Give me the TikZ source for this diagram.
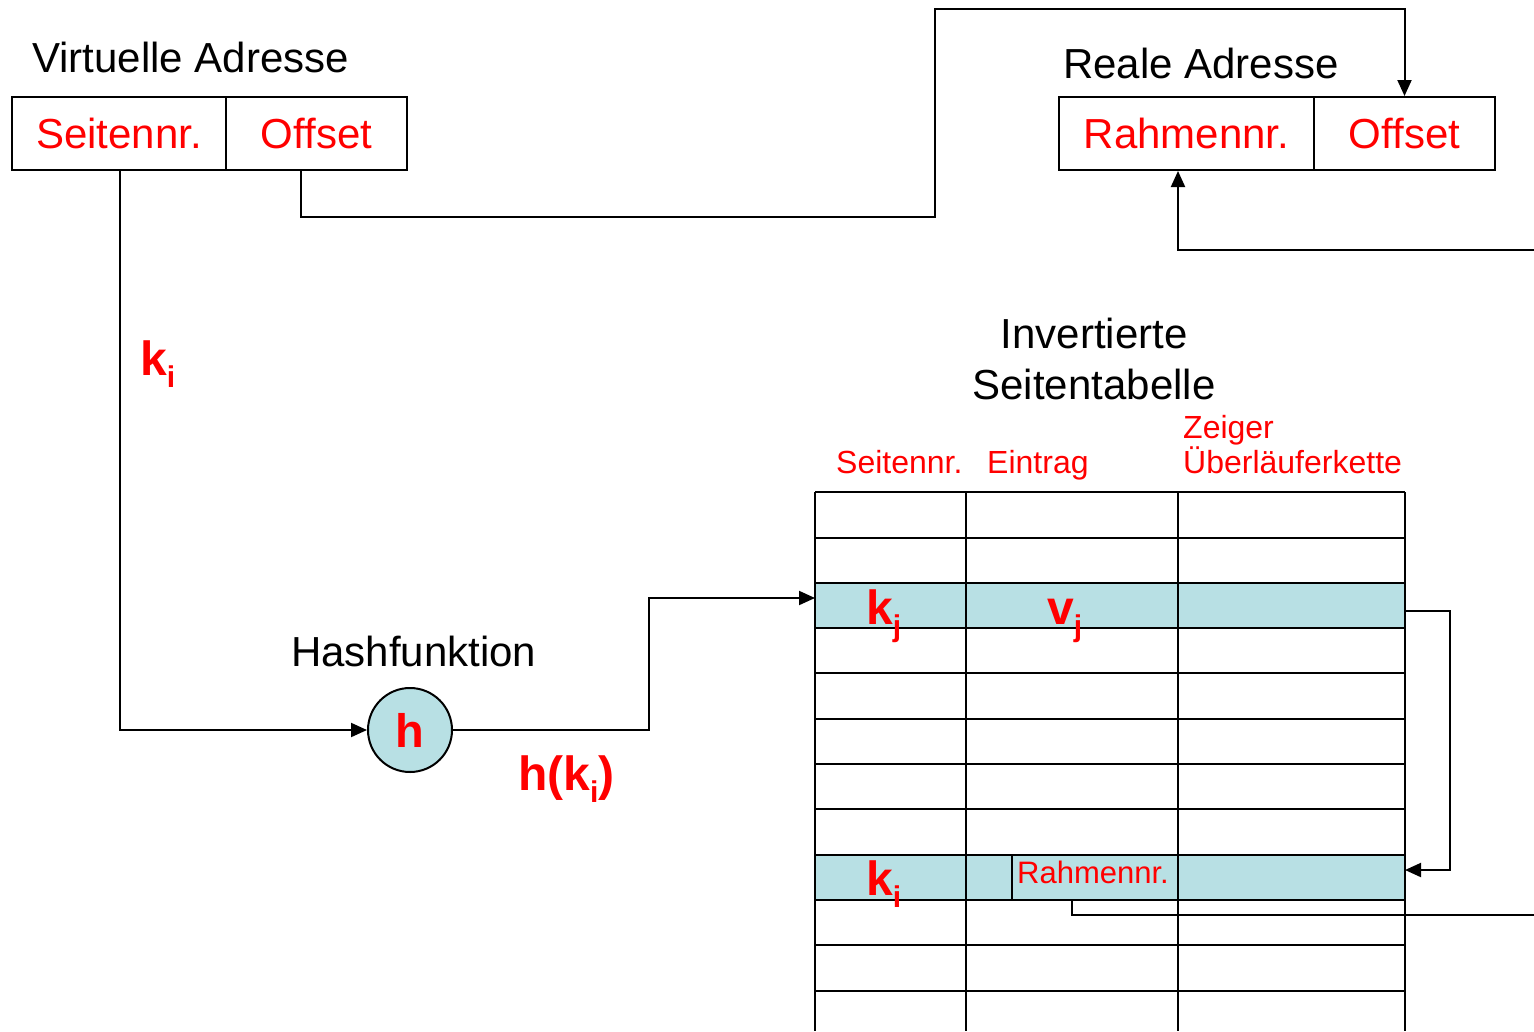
\documentclass[tikz,border=0pt]{standalone}
\usepackage{fontspec}
\setmainfont{Liberation Sans}
\usetikzlibrary{arrows.meta,calc}
\definecolor{cellblue}{RGB}{184,224,228}
\newcommand{\bigf}{\fontsize{42}{50}\selectfont}
\newcommand{\midf}{\fontsize{32}{38}\selectfont}
\newcommand{\smf}{\fontsize{31}{36}\selectfont}
\newcommand{\keyf}{\fontsize{48}{56}\selectfont\bfseries}
\newcommand{\subx}[1]{\raisebox{-12pt}{\fontsize{30}{30}\selectfont\bfseries #1}}
\begin{document}
\begin{tikzpicture}[x=1pt,y=-1pt,
  conn/.style={line width=2pt},
  arr/.style={conn,-{Triangle[length=16pt,width=14pt]}},
  grid/.style={line width=2pt},
  cell/.style={draw,line width=2pt,rectangle,inner sep=0pt,minimum height=73pt,
    text height=30pt,text depth=0pt,text=red,font=\bigf},
  lbl/.style={anchor=base west,inner sep=0pt},
  title/.style={lbl,font=\bigf},
  rlbl/.style={lbl,font=\midf,text=red},
  key/.style={lbl,font=\keyf,text=red}
]
\useasboundingbox (0,0) rectangle (1534,1031);

% titles
\node[title] (tv) at (32,72) {Virtuelle Adresse};
\node[title] (tr) at (1063,78) {Reale Adresse};
\node[title] (th) at (291,666) {Hashfunktion};
\node[anchor=base,inner sep=0pt,font=\bigf] (ti1) at (1094,348) {Invertierte};
\node[anchor=base,inner sep=0pt,font=\bigf] (ti2) at (1094,399) {Seitentabelle};

% address boxes
\node[cell,minimum width=214pt] (vseit) at (119,133.5) {Seitennr.};
\node[cell,minimum width=181pt] (voff) at (316.5,133.5) {Offset};
\node[cell,minimum width=255pt] (rrahm) at (1186.5,133.5) {Rahmennr.};
\node[cell,minimum width=181pt] (roff) at (1404.5,133.5) {Offset};

% column labels
\node[rlbl] (c1) at (836,473) {Seitennr.};
\node[rlbl] (c2) at (987,473) {Eintrag};
\node[rlbl] (c3a) at (1183,438) {Zeiger};
\node[rlbl] (c3b) at (1183,473) {Überläuferkette};

% table highlight rows
\fill[cellblue] (815,583) rectangle (1405,628);
\fill[cellblue] (815,855) rectangle (1405,900);
% table grid
\foreach \yy in {492,537.5,583,628,673.3,718.7,764,809.3,854.7,900,945.3,990.7}
  \draw[grid] (815,\yy) -- (1405,\yy);
\foreach \xx in {815,966,1178,1405}
  \draw[grid] (\xx,492) -- (\xx,1031);
\draw[grid] (1012,854.7) -- (1012,900);

% table texts
\node[key] (kj) at (866,624) {k\subx{j}};
\node[key] (vj) at (1047,624) {v\subx{j}};
\node[key] (ki2) at (866,895) {k\subx{i}};
\node[lbl,font=\smf,text=red] (rn) at (1017,883) {Rahmennr.};

% left labels
\node[key] (ki) at (140,375) {k\subx{i}};
\node[key] (hk) at (518,790) {h(k\subx{i})};

% hash circle
\node[circle,draw,line width=2pt,fill=cellblue,minimum size=84pt,inner sep=0pt,
  text height=34pt,text depth=0pt,text=red,font=\fontsize{47}{50}\selectfont\bfseries] (hn) at (410,730) {h};

% coordinates
\coordinate (tabin) at (815,598);
\coordinate (rowjR) at (1405,611);
\coordinate (rowiR) at (1405,870);
\coordinate (rnbot) at (1072,900);
\coordinate (edgeA) at (1534,250);
\coordinate (edgeB) at (1534,915);

% connectors
\draw[arr] ($(vseit.south)+(1,0)$) |- (hn.west);
\draw[arr] (hn.east) -- (649,730) |- (tabin);
\draw[arr] ($(voff.south)+(-15.5,0)$) -- (301,217) -- (935,217) -- (935,9) -| (roff.north);
\draw[arr] (edgeA) -| ($(rrahm.south)+(-8.5,0)$);
\draw[arr] (rowjR) -- (1450,611) |- (rowiR);
\draw[conn] (rnbot) |- (edgeB);
\end{tikzpicture}
\end{document}
